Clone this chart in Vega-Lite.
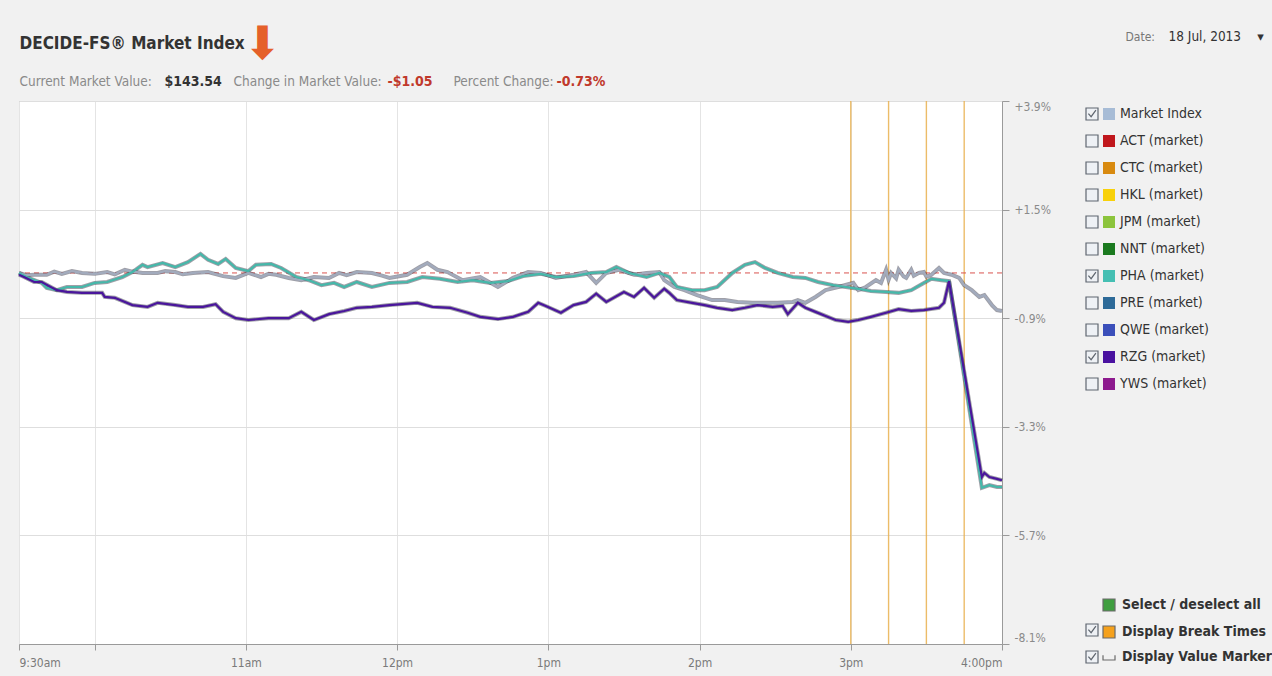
{
  "$schema": "https://vega.github.io/schema/vega-lite/v6.json",
  "width": 983,
  "height": 543,
  "autosize": {"type": "none"},
  "padding": {"left": 19, "top": 101, "right": 270, "bottom": 32},
  "background": "#f1f1f1",
  "config": {
    "font": "DejaVu Sans Condensed, DejaVu Sans",
    "view": {"stroke": "#b4b4b4", "fill": "#ffffff"},
    "axis": {"labelFont": "DejaVu Sans Condensed, DejaVu Sans", "titleFont": "DejaVu Sans Condensed, DejaVu Sans", "titleFontWeight": "normal"},
    "legend": {"labelFont": "DejaVu Sans Condensed, DejaVu Sans", "labelLimit": 400}
  },
  "datasets": {
    "reference": [{"level": 0.1}],
    "breaks": [
      {"time": "2013-07-18 15:00", "item": "Display Break Times"},
      {"time": "2013-07-18 15:15", "item": "Display Break Times"},
      {"time": "2013-07-18 15:30", "item": "Display Break Times"},
      {"time": "2013-07-18 15:45", "item": "Display Break Times"}
    ],
    "lines": [
      {"series": "Market Index", "time": "2013-07-18 09:30", "pct": 0.10},
      {"series": "Market Index", "time": "2013-07-18 09:33", "pct": 0.05},
      {"series": "Market Index", "time": "2013-07-18 09:36", "pct": 0.06},
      {"series": "Market Index", "time": "2013-07-18 09:41", "pct": 0.06},
      {"series": "Market Index", "time": "2013-07-18 09:44", "pct": 0.13},
      {"series": "Market Index", "time": "2013-07-18 09:47", "pct": 0.08},
      {"series": "Market Index", "time": "2013-07-18 09:51", "pct": 0.14},
      {"series": "Market Index", "time": "2013-07-18 09:55", "pct": 0.10},
      {"series": "Market Index", "time": "2013-07-18 10:00", "pct": 0.08},
      {"series": "Market Index", "time": "2013-07-18 10:05", "pct": 0.12},
      {"series": "Market Index", "time": "2013-07-18 10:08", "pct": 0.07},
      {"series": "Market Index", "time": "2013-07-18 10:12", "pct": 0.17},
      {"series": "Market Index", "time": "2013-07-18 10:15", "pct": 0.13},
      {"series": "Market Index", "time": "2013-07-18 10:19", "pct": 0.10},
      {"series": "Market Index", "time": "2013-07-18 10:25", "pct": 0.10},
      {"series": "Market Index", "time": "2013-07-18 10:28", "pct": 0.14},
      {"series": "Market Index", "time": "2013-07-18 10:32", "pct": 0.12},
      {"series": "Market Index", "time": "2013-07-18 10:35", "pct": 0.07},
      {"series": "Market Index", "time": "2013-07-18 10:39", "pct": 0.10},
      {"series": "Market Index", "time": "2013-07-18 10:45", "pct": 0.12},
      {"series": "Market Index", "time": "2013-07-18 10:51", "pct": 0.03},
      {"series": "Market Index", "time": "2013-07-18 10:56", "pct": -0.01},
      {"series": "Market Index", "time": "2013-07-18 11:01", "pct": 0.10},
      {"series": "Market Index", "time": "2013-07-18 11:06", "pct": 0.01},
      {"series": "Market Index", "time": "2013-07-18 11:09", "pct": 0.08},
      {"series": "Market Index", "time": "2013-07-18 11:12", "pct": 0.06},
      {"series": "Market Index", "time": "2013-07-18 11:17", "pct": -0.01},
      {"series": "Market Index", "time": "2013-07-18 11:22", "pct": -0.06},
      {"series": "Market Index", "time": "2013-07-18 11:27", "pct": 0.01},
      {"series": "Market Index", "time": "2013-07-18 11:33", "pct": -0.01},
      {"series": "Market Index", "time": "2013-07-18 11:37", "pct": 0.10},
      {"series": "Market Index", "time": "2013-07-18 11:40", "pct": 0.05},
      {"series": "Market Index", "time": "2013-07-18 11:44", "pct": 0.12},
      {"series": "Market Index", "time": "2013-07-18 11:50", "pct": 0.10},
      {"series": "Market Index", "time": "2013-07-18 11:54", "pct": 0.04},
      {"series": "Market Index", "time": "2013-07-18 11:57", "pct": -0.01},
      {"series": "Market Index", "time": "2013-07-18 12:04", "pct": 0.06},
      {"series": "Market Index", "time": "2013-07-18 12:09", "pct": 0.23},
      {"series": "Market Index", "time": "2013-07-18 12:12", "pct": 0.32},
      {"series": "Market Index", "time": "2013-07-18 12:16", "pct": 0.17},
      {"series": "Market Index", "time": "2013-07-18 12:20", "pct": 0.12},
      {"series": "Market Index", "time": "2013-07-18 12:26", "pct": -0.06},
      {"series": "Market Index", "time": "2013-07-18 12:33", "pct": 0.01},
      {"series": "Market Index", "time": "2013-07-18 12:40", "pct": -0.21},
      {"series": "Market Index", "time": "2013-07-18 12:46", "pct": -0.01},
      {"series": "Market Index", "time": "2013-07-18 12:52", "pct": 0.12},
      {"series": "Market Index", "time": "2013-07-18 12:57", "pct": 0.10},
      {"series": "Market Index", "time": "2013-07-18 13:03", "pct": -0.01},
      {"series": "Market Index", "time": "2013-07-18 13:10", "pct": 0.06},
      {"series": "Market Index", "time": "2013-07-18 13:15", "pct": 0.12},
      {"series": "Market Index", "time": "2013-07-18 13:19", "pct": -0.12},
      {"series": "Market Index", "time": "2013-07-18 13:23", "pct": 0.10},
      {"series": "Market Index", "time": "2013-07-18 13:28", "pct": 0.17},
      {"series": "Market Index", "time": "2013-07-18 13:34", "pct": 0.06},
      {"series": "Market Index", "time": "2013-07-18 13:39", "pct": 0.10},
      {"series": "Market Index", "time": "2013-07-18 13:44", "pct": 0.12},
      {"series": "Market Index", "time": "2013-07-18 13:46", "pct": -0.06},
      {"series": "Market Index", "time": "2013-07-18 13:50", "pct": -0.21},
      {"series": "Market Index", "time": "2013-07-18 13:54", "pct": -0.28},
      {"series": "Market Index", "time": "2013-07-18 13:59", "pct": -0.39},
      {"series": "Market Index", "time": "2013-07-18 14:05", "pct": -0.50},
      {"series": "Market Index", "time": "2013-07-18 14:10", "pct": -0.50},
      {"series": "Market Index", "time": "2013-07-18 14:15", "pct": -0.54},
      {"series": "Market Index", "time": "2013-07-18 14:21", "pct": -0.56},
      {"series": "Market Index", "time": "2013-07-18 14:26", "pct": -0.56},
      {"series": "Market Index", "time": "2013-07-18 14:31", "pct": -0.56},
      {"series": "Market Index", "time": "2013-07-18 14:37", "pct": -0.54},
      {"series": "Market Index", "time": "2013-07-18 14:39", "pct": -0.50},
      {"series": "Market Index", "time": "2013-07-18 14:42", "pct": -0.56},
      {"series": "Market Index", "time": "2013-07-18 14:46", "pct": -0.43},
      {"series": "Market Index", "time": "2013-07-18 14:50", "pct": -0.28},
      {"series": "Market Index", "time": "2013-07-18 14:55", "pct": -0.21},
      {"series": "Market Index", "time": "2013-07-18 15:01", "pct": -0.12},
      {"series": "Market Index", "time": "2013-07-18 15:03", "pct": -0.28},
      {"series": "Market Index", "time": "2013-07-18 15:06", "pct": -0.21},
      {"series": "Market Index", "time": "2013-07-18 15:10", "pct": -0.06},
      {"series": "Market Index", "time": "2013-07-18 15:12", "pct": -0.12},
      {"series": "Market Index", "time": "2013-07-18 15:14", "pct": 0.17},
      {"series": "Market Index", "time": "2013-07-18 15:15", "pct": -0.05},
      {"series": "Market Index", "time": "2013-07-18 15:16", "pct": 0.10},
      {"series": "Market Index", "time": "2013-07-18 15:18", "pct": -0.02},
      {"series": "Market Index", "time": "2013-07-18 15:19", "pct": 0.17},
      {"series": "Market Index", "time": "2013-07-18 15:21", "pct": 0.02},
      {"series": "Market Index", "time": "2013-07-18 15:22", "pct": -0.01},
      {"series": "Market Index", "time": "2013-07-18 15:24", "pct": 0.17},
      {"series": "Market Index", "time": "2013-07-18 15:25", "pct": 0.04},
      {"series": "Market Index", "time": "2013-07-18 15:27", "pct": 0.10},
      {"series": "Market Index", "time": "2013-07-18 15:29", "pct": 0.12},
      {"series": "Market Index", "time": "2013-07-18 15:30", "pct": 0.02},
      {"series": "Market Index", "time": "2013-07-18 15:32", "pct": 0.06},
      {"series": "Market Index", "time": "2013-07-18 15:35", "pct": 0.21},
      {"series": "Market Index", "time": "2013-07-18 15:37", "pct": 0.10},
      {"series": "Market Index", "time": "2013-07-18 15:40", "pct": 0.06},
      {"series": "Market Index", "time": "2013-07-18 15:43", "pct": -0.01},
      {"series": "Market Index", "time": "2013-07-18 15:45", "pct": -0.17},
      {"series": "Market Index", "time": "2013-07-18 15:48", "pct": -0.28},
      {"series": "Market Index", "time": "2013-07-18 15:51", "pct": -0.43},
      {"series": "Market Index", "time": "2013-07-18 15:53", "pct": -0.39},
      {"series": "Market Index", "time": "2013-07-18 15:56", "pct": -0.61},
      {"series": "Market Index", "time": "2013-07-18 15:58", "pct": -0.72},
      {"series": "Market Index", "time": "2013-07-18 16:00", "pct": -0.74},

      {"series": "PHA (market)", "time": "2013-07-18 09:30", "pct": 0.10},
      {"series": "PHA (market)", "time": "2013-07-18 09:33", "pct": 0.01},
      {"series": "PHA (market)", "time": "2013-07-18 09:39", "pct": -0.12},
      {"series": "PHA (market)", "time": "2013-07-18 09:41", "pct": -0.23},
      {"series": "PHA (market)", "time": "2013-07-18 09:45", "pct": -0.28},
      {"series": "PHA (market)", "time": "2013-07-18 09:49", "pct": -0.21},
      {"series": "PHA (market)", "time": "2013-07-18 09:55", "pct": -0.21},
      {"series": "PHA (market)", "time": "2013-07-18 10:00", "pct": -0.12},
      {"series": "PHA (market)", "time": "2013-07-18 10:05", "pct": -0.10},
      {"series": "PHA (market)", "time": "2013-07-18 10:11", "pct": 0.01},
      {"series": "PHA (market)", "time": "2013-07-18 10:15", "pct": 0.12},
      {"series": "PHA (market)", "time": "2013-07-18 10:19", "pct": 0.28},
      {"series": "PHA (market)", "time": "2013-07-18 10:21", "pct": 0.23},
      {"series": "PHA (market)", "time": "2013-07-18 10:27", "pct": 0.32},
      {"series": "PHA (market)", "time": "2013-07-18 10:32", "pct": 0.23},
      {"series": "PHA (market)", "time": "2013-07-18 10:37", "pct": 0.34},
      {"series": "PHA (market)", "time": "2013-07-18 10:42", "pct": 0.52},
      {"series": "PHA (market)", "time": "2013-07-18 10:45", "pct": 0.39},
      {"series": "PHA (market)", "time": "2013-07-18 10:49", "pct": 0.30},
      {"series": "PHA (market)", "time": "2013-07-18 10:52", "pct": 0.41},
      {"series": "PHA (market)", "time": "2013-07-18 10:56", "pct": 0.21},
      {"series": "PHA (market)", "time": "2013-07-18 11:01", "pct": 0.14},
      {"series": "PHA (market)", "time": "2013-07-18 11:04", "pct": 0.28},
      {"series": "PHA (market)", "time": "2013-07-18 11:10", "pct": 0.30},
      {"series": "PHA (market)", "time": "2013-07-18 11:14", "pct": 0.21},
      {"series": "PHA (market)", "time": "2013-07-18 11:20", "pct": 0.01},
      {"series": "PHA (market)", "time": "2013-07-18 11:25", "pct": -0.06},
      {"series": "PHA (market)", "time": "2013-07-18 11:30", "pct": -0.17},
      {"series": "PHA (market)", "time": "2013-07-18 11:35", "pct": -0.12},
      {"series": "PHA (market)", "time": "2013-07-18 11:39", "pct": -0.21},
      {"series": "PHA (market)", "time": "2013-07-18 11:44", "pct": -0.10},
      {"series": "PHA (market)", "time": "2013-07-18 11:50", "pct": -0.21},
      {"series": "PHA (market)", "time": "2013-07-18 11:57", "pct": -0.12},
      {"series": "PHA (market)", "time": "2013-07-18 12:04", "pct": -0.10},
      {"series": "PHA (market)", "time": "2013-07-18 12:10", "pct": 0.01},
      {"series": "PHA (market)", "time": "2013-07-18 12:17", "pct": -0.03},
      {"series": "PHA (market)", "time": "2013-07-18 12:24", "pct": -0.10},
      {"series": "PHA (market)", "time": "2013-07-18 12:30", "pct": -0.06},
      {"series": "PHA (market)", "time": "2013-07-18 12:37", "pct": -0.12},
      {"series": "PHA (market)", "time": "2013-07-18 12:44", "pct": -0.08},
      {"series": "PHA (market)", "time": "2013-07-18 12:50", "pct": 0.03},
      {"series": "PHA (market)", "time": "2013-07-18 12:57", "pct": 0.08},
      {"series": "PHA (market)", "time": "2013-07-18 13:03", "pct": 0.01},
      {"series": "PHA (market)", "time": "2013-07-18 13:10", "pct": 0.03},
      {"series": "PHA (market)", "time": "2013-07-18 13:17", "pct": 0.10},
      {"series": "PHA (market)", "time": "2013-07-18 13:23", "pct": 0.12},
      {"series": "PHA (market)", "time": "2013-07-18 13:27", "pct": 0.23},
      {"series": "PHA (market)", "time": "2013-07-18 13:32", "pct": 0.10},
      {"series": "PHA (market)", "time": "2013-07-18 13:39", "pct": 0.01},
      {"series": "PHA (market)", "time": "2013-07-18 13:44", "pct": 0.10},
      {"series": "PHA (market)", "time": "2013-07-18 13:48", "pct": 0.01},
      {"series": "PHA (market)", "time": "2013-07-18 13:51", "pct": -0.21},
      {"series": "PHA (market)", "time": "2013-07-18 13:57", "pct": -0.28},
      {"series": "PHA (market)", "time": "2013-07-18 14:02", "pct": -0.28},
      {"series": "PHA (market)", "time": "2013-07-18 14:07", "pct": -0.21},
      {"series": "PHA (market)", "time": "2013-07-18 14:13", "pct": 0.10},
      {"series": "PHA (market)", "time": "2013-07-18 14:18", "pct": 0.28},
      {"series": "PHA (market)", "time": "2013-07-18 14:22", "pct": 0.34},
      {"series": "PHA (market)", "time": "2013-07-18 14:26", "pct": 0.21},
      {"series": "PHA (market)", "time": "2013-07-18 14:31", "pct": 0.10},
      {"series": "PHA (market)", "time": "2013-07-18 14:37", "pct": 0.01},
      {"series": "PHA (market)", "time": "2013-07-18 14:42", "pct": -0.01},
      {"series": "PHA (market)", "time": "2013-07-18 14:47", "pct": -0.10},
      {"series": "PHA (market)", "time": "2013-07-18 14:53", "pct": -0.17},
      {"series": "PHA (market)", "time": "2013-07-18 14:58", "pct": -0.21},
      {"series": "PHA (market)", "time": "2013-07-18 15:03", "pct": -0.25},
      {"series": "PHA (market)", "time": "2013-07-18 15:08", "pct": -0.30},
      {"series": "PHA (market)", "time": "2013-07-18 15:14", "pct": -0.32},
      {"series": "PHA (market)", "time": "2013-07-18 15:19", "pct": -0.34},
      {"series": "PHA (market)", "time": "2013-07-18 15:24", "pct": -0.28},
      {"series": "PHA (market)", "time": "2013-07-18 15:29", "pct": -0.12},
      {"series": "PHA (market)", "time": "2013-07-18 15:32", "pct": -0.03},
      {"series": "PHA (market)", "time": "2013-07-18 15:36", "pct": -0.06},
      {"series": "PHA (market)", "time": "2013-07-18 15:39", "pct": -0.08},
      {"series": "PHA (market)", "time": "2013-07-18 15:52", "pct": -4.65},
      {"series": "PHA (market)", "time": "2013-07-18 15:55", "pct": -4.59},
      {"series": "PHA (market)", "time": "2013-07-18 15:58", "pct": -4.63},
      {"series": "PHA (market)", "time": "2013-07-18 16:00", "pct": -4.63},

      {"series": "RZG (market)", "time": "2013-07-18 09:30", "pct": 0.06},
      {"series": "RZG (market)", "time": "2013-07-18 09:32", "pct": 0.01},
      {"series": "RZG (market)", "time": "2013-07-18 09:36", "pct": -0.10},
      {"series": "RZG (market)", "time": "2013-07-18 09:39", "pct": -0.10},
      {"series": "RZG (market)", "time": "2013-07-18 09:45", "pct": -0.28},
      {"series": "RZG (market)", "time": "2013-07-18 09:49", "pct": -0.32},
      {"series": "RZG (market)", "time": "2013-07-18 09:55", "pct": -0.34},
      {"series": "RZG (market)", "time": "2013-07-18 10:03", "pct": -0.34},
      {"series": "RZG (market)", "time": "2013-07-18 10:04", "pct": -0.43},
      {"series": "RZG (market)", "time": "2013-07-18 10:08", "pct": -0.45},
      {"series": "RZG (market)", "time": "2013-07-18 10:15", "pct": -0.61},
      {"series": "RZG (market)", "time": "2013-07-18 10:21", "pct": -0.65},
      {"series": "RZG (market)", "time": "2013-07-18 10:25", "pct": -0.56},
      {"series": "RZG (market)", "time": "2013-07-18 10:32", "pct": -0.61},
      {"series": "RZG (market)", "time": "2013-07-18 10:37", "pct": -0.65},
      {"series": "RZG (market)", "time": "2013-07-18 10:43", "pct": -0.65},
      {"series": "RZG (market)", "time": "2013-07-18 10:48", "pct": -0.59},
      {"series": "RZG (market)", "time": "2013-07-18 10:51", "pct": -0.76},
      {"series": "RZG (market)", "time": "2013-07-18 10:56", "pct": -0.90},
      {"series": "RZG (market)", "time": "2013-07-18 11:01", "pct": -0.94},
      {"series": "RZG (market)", "time": "2013-07-18 11:09", "pct": -0.90},
      {"series": "RZG (market)", "time": "2013-07-18 11:17", "pct": -0.90},
      {"series": "RZG (market)", "time": "2013-07-18 11:22", "pct": -0.76},
      {"series": "RZG (market)", "time": "2013-07-18 11:27", "pct": -0.94},
      {"series": "RZG (market)", "time": "2013-07-18 11:33", "pct": -0.81},
      {"series": "RZG (market)", "time": "2013-07-18 11:39", "pct": -0.74},
      {"series": "RZG (market)", "time": "2013-07-18 11:44", "pct": -0.67},
      {"series": "RZG (market)", "time": "2013-07-18 11:50", "pct": -0.65},
      {"series": "RZG (market)", "time": "2013-07-18 11:57", "pct": -0.61},
      {"series": "RZG (market)", "time": "2013-07-18 12:08", "pct": -0.56},
      {"series": "RZG (market)", "time": "2013-07-18 12:14", "pct": -0.65},
      {"series": "RZG (market)", "time": "2013-07-18 12:21", "pct": -0.67},
      {"series": "RZG (market)", "time": "2013-07-18 12:28", "pct": -0.78},
      {"series": "RZG (market)", "time": "2013-07-18 12:33", "pct": -0.87},
      {"series": "RZG (market)", "time": "2013-07-18 12:40", "pct": -0.92},
      {"series": "RZG (market)", "time": "2013-07-18 12:46", "pct": -0.87},
      {"series": "RZG (market)", "time": "2013-07-18 12:52", "pct": -0.76},
      {"series": "RZG (market)", "time": "2013-07-18 12:56", "pct": -0.56},
      {"series": "RZG (market)", "time": "2013-07-18 12:59", "pct": -0.63},
      {"series": "RZG (market)", "time": "2013-07-18 13:05", "pct": -0.78},
      {"series": "RZG (market)", "time": "2013-07-18 13:10", "pct": -0.61},
      {"series": "RZG (market)", "time": "2013-07-18 13:15", "pct": -0.54},
      {"series": "RZG (market)", "time": "2013-07-18 13:19", "pct": -0.36},
      {"series": "RZG (market)", "time": "2013-07-18 13:23", "pct": -0.54},
      {"series": "RZG (market)", "time": "2013-07-18 13:30", "pct": -0.32},
      {"series": "RZG (market)", "time": "2013-07-18 13:34", "pct": -0.43},
      {"series": "RZG (market)", "time": "2013-07-18 13:38", "pct": -0.23},
      {"series": "RZG (market)", "time": "2013-07-18 13:42", "pct": -0.45},
      {"series": "RZG (market)", "time": "2013-07-18 13:46", "pct": -0.25},
      {"series": "RZG (market)", "time": "2013-07-18 13:48", "pct": -0.34},
      {"series": "RZG (market)", "time": "2013-07-18 13:51", "pct": -0.50},
      {"series": "RZG (market)", "time": "2013-07-18 13:57", "pct": -0.56},
      {"series": "RZG (market)", "time": "2013-07-18 14:02", "pct": -0.61},
      {"series": "RZG (market)", "time": "2013-07-18 14:07", "pct": -0.67},
      {"series": "RZG (market)", "time": "2013-07-18 14:13", "pct": -0.72},
      {"series": "RZG (market)", "time": "2013-07-18 14:18", "pct": -0.67},
      {"series": "RZG (market)", "time": "2013-07-18 14:23", "pct": -0.61},
      {"series": "RZG (market)", "time": "2013-07-18 14:29", "pct": -0.65},
      {"series": "RZG (market)", "time": "2013-07-18 14:33", "pct": -0.63},
      {"series": "RZG (market)", "time": "2013-07-18 14:35", "pct": -0.81},
      {"series": "RZG (market)", "time": "2013-07-18 14:39", "pct": -0.56},
      {"series": "RZG (market)", "time": "2013-07-18 14:42", "pct": -0.67},
      {"series": "RZG (market)", "time": "2013-07-18 14:46", "pct": -0.76},
      {"series": "RZG (market)", "time": "2013-07-18 14:50", "pct": -0.85},
      {"series": "RZG (market)", "time": "2013-07-18 14:54", "pct": -0.94},
      {"series": "RZG (market)", "time": "2013-07-18 14:59", "pct": -0.98},
      {"series": "RZG (market)", "time": "2013-07-18 15:03", "pct": -0.94},
      {"series": "RZG (market)", "time": "2013-07-18 15:08", "pct": -0.87},
      {"series": "RZG (market)", "time": "2013-07-18 15:14", "pct": -0.78},
      {"series": "RZG (market)", "time": "2013-07-18 15:19", "pct": -0.70},
      {"series": "RZG (market)", "time": "2013-07-18 15:24", "pct": -0.74},
      {"series": "RZG (market)", "time": "2013-07-18 15:29", "pct": -0.72},
      {"series": "RZG (market)", "time": "2013-07-18 15:35", "pct": -0.67},
      {"series": "RZG (market)", "time": "2013-07-18 15:37", "pct": -0.56},
      {"series": "RZG (market)", "time": "2013-07-18 15:39", "pct": -0.08},
      {"series": "RZG (market)", "time": "2013-07-18 15:52", "pct": -4.41},
      {"series": "RZG (market)", "time": "2013-07-18 15:53", "pct": -4.32},
      {"series": "RZG (market)", "time": "2013-07-18 15:55", "pct": -4.41},
      {"series": "RZG (market)", "time": "2013-07-18 15:58", "pct": -4.45},
      {"series": "RZG (market)", "time": "2013-07-18 16:00", "pct": -4.48}
    ]
  },
  "resolve": {
    "scale": {"shape": "independent", "fill": "independent"},
    "axis": {"x": "independent", "y": "independent"}
  },
  "layer": [
    {
      "data": {"name": "breaks"},
      "mark": {"type": "rule", "strokeWidth": 1.4, "color": "#e9b04f", "opacity": 0.85},
      "encoding": {
        "x": {
          "field": "time", "type": "temporal",
          "axis": {"orient": "top", "domain": false, "ticks": false, "labels": false, "grid": false,
            "title": "$143.54", "titleX": 145, "titleY": -16, "titleAlign": "left", "titleBaseline": "alphabetic", "titleAngle": 0,
            "titleColor": "#333333", "titleFontSize": 14, "titleFontWeight": "bold"}
        }
      }
    },
    {
      "data": {"name": "reference"},
      "mark": {"type": "rule", "color": "#d9534f", "strokeDash": [5, 4], "strokeWidth": 1},
      "encoding": {
        "y": {
          "field": "level", "type": "quantitative",
          "axis": {"orient": "left", "domain": false, "ticks": false, "labels": false, "grid": false,
            "title": "Current Market Value:", "titleX": 0, "titleY": -16, "titleAlign": "left", "titleBaseline": "alphabetic", "titleAngle": 0,
            "titleColor": "#8a8a8a", "titleFontSize": 13.5}
        }
      }
    },
    {
      "data": {"name": "lines"},
      "mark": {"type": "line", "color": "#2b2b3b", "opacity": 0.45, "strokeWidth": 4},
      "encoding": {
        "x": {
          "field": "time", "type": "temporal",
          "scale": {"domain": [{"year": 2013, "month": 7, "date": 18, "hours": 9, "minutes": 30}, {"year": 2013, "month": 7, "date": 18, "hours": 16, "minutes": 0}]},
          "axis": {
            "orient": "bottom",
            "values": [
              {"year": 2013, "month": 7, "date": 18, "hours": 9, "minutes": 30},
              {"year": 2013, "month": 7, "date": 18, "hours": 10},
              {"year": 2013, "month": 7, "date": 18, "hours": 11},
              {"year": 2013, "month": 7, "date": 18, "hours": 12},
              {"year": 2013, "month": 7, "date": 18, "hours": 13},
              {"year": 2013, "month": 7, "date": 18, "hours": 14},
              {"year": 2013, "month": 7, "date": 18, "hours": 15},
              {"year": 2013, "month": 7, "date": 18, "hours": 16}
            ],
            "labelExpr": "hours(datum.value) == 9 ? '9:30am' : hours(datum.value) == 10 ? '' : hours(datum.value) == 16 ? '4:00pm' : hours(datum.value) == 12 ? '12pm' : hours(datum.value) < 12 ? hours(datum.value) + 'am' : (hours(datum.value) - 12) + 'pm'",
            "labelFlush": true, "labelFontSize": 12, "labelColor": "#7a7a7a", "labelPadding": 7,
            "tickSize": 6, "tickColor": "#9a9a9a", "domainColor": "#9a9a9a",
            "grid": true, "gridColor": "#e4e4e4",
            "title": "Date:", "titleX": 1106, "titleY": -604, "titleAlign": "left", "titleBaseline": "alphabetic", "titleAngle": 0,
            "titleColor": "#777777", "titleFontSize": 12
          }
        },
        "y": {
          "field": "pct", "type": "quantitative",
          "scale": {"domain": [-8.1, 3.9], "nice": false, "zero": false},
          "axis": {
            "orient": "right",
            "values": [3.9, 1.5, -0.9, -3.3, -5.7, -8.1],
            "labelExpr": "replace(format(datum.value, '+.1f'), '\u2212', '-') + '%'",
            "labelFlush": true, "labelFontSize": 12, "labelColor": "#8a8a8a", "labelPadding": 5,
            "tickSize": 7, "tickColor": "#9a9a9a", "domainColor": "#9a9a9a",
            "grid": true, "gridColor": "#dedede",
            "title": "-0.73%", "titleX": -446, "titleY": -16, "titleAlign": "left", "titleBaseline": "alphabetic", "titleAngle": 0,
            "titleColor": "#c0392b", "titleFontSize": 14, "titleFontWeight": "bold"
          }
        },
        "detail": {"field": "series", "type": "nominal"}
      }
    },
    {
      "data": {"name": "lines"},
      "mark": {"type": "line", "strokeWidth": 2.2},
      "encoding": {
        "x": {
          "field": "time", "type": "temporal",
          "axis": {"orient": "top", "domain": false, "ticks": false, "labels": false, "grid": false,
            "title": "DECIDE-FS\u00AE Market Index", "titleX": 0, "titleY": -53, "titleAlign": "left", "titleBaseline": "alphabetic", "titleAngle": 0,
            "titleColor": "#333333", "titleFontSize": 17, "titleFontWeight": "bold"}
        },
        "y": {
          "field": "pct", "type": "quantitative",
          "axis": {"orient": "left", "domain": false, "ticks": false, "labels": false, "grid": false,
            "title": "\u2B07", "titleX": 243, "titleY": -43, "titleAlign": "center", "titleBaseline": "alphabetic", "titleAngle": 0,
            "titleColor": "#e5602a", "titleFontSize": 46, "titleFont": "DejaVu Sans"}
        },
        "color": {
          "field": "series", "type": "nominal",
          "scale": {
            "domain": ["Market Index", "PHA (market)", "RZG (market)"],
            "range": ["#a2abbd", "#45b8aa", "#4a169c"]
          },
          "legend": null
        }
      }
    },
    {
      "data": {"name": "lines"},
      "mark": {"type": "point", "shape": "square", "filled": true, "opacity": 0},
      "encoding": {
        "x": {
          "field": "time", "type": "temporal",
          "axis": {"orient": "top", "domain": false, "ticks": false, "labels": false, "grid": false,
            "title": "18 Jul, 2013", "titleX": 1149, "titleY": -61, "titleAlign": "left", "titleBaseline": "alphabetic", "titleAngle": 0,
            "titleColor": "#333333", "titleFontSize": 13.5}
        },
        "y": {
          "field": "pct", "type": "quantitative",
          "axis": {"orient": "left", "domain": false, "ticks": false, "labels": false, "grid": false,
            "title": "\u25BE", "titleX": 1241, "titleY": -61, "titleAlign": "center", "titleBaseline": "alphabetic", "titleAngle": 0,
            "titleColor": "#333333", "titleFontSize": 13, "titleFont": "DejaVu Sans"}
        },
        "fill": {
          "field": "series", "type": "nominal",
          "scale": {
            "domain": ["Market Index", "ACT (market)", "CTC (market)", "HKL (market)", "JPM (market)", "NNT (market)", "PHA (market)", "PRE (market)", "QWE (market)", "RZG (market)", "YWS (market)"],
            "range": ["#a7bcd6", "#c0171c", "#d88a10", "#f8d10a", "#8cc43c", "#1b7a1f", "#45bfb3", "#2d6a98", "#3b4fba", "#4a12a0", "#8d1a8e"]
          },
          "legend": {
            "orient": "none", "legendX": 1083, "legendY": 6, "title": null, "padding": 0,
            "symbolType": "square", "symbolSize": 144, "symbolStrokeWidth": 1.2, "symbolStrokeColor": "transparent", "symbolOpacity": 1,
            "labelExpr": "''", "labelFontSize": 14, "labelOffset": 6, "rowPadding": 9
          }
        }
      }
    },
    {
      "data": {"name": "lines"},
      "mark": {"type": "point", "filled": true, "color": "#eef1f5", "stroke": "#5f6670", "strokeWidth": 1.2, "opacity": 0},
      "encoding": {
        "x": {
          "field": "time", "type": "temporal",
          "axis": {"orient": "top", "domain": false, "ticks": false, "labels": false, "grid": false,
            "title": "Change in Market Value:", "titleX": 214, "titleY": -16, "titleAlign": "left", "titleBaseline": "alphabetic", "titleAngle": 0,
            "titleColor": "#8a8a8a", "titleFontSize": 13.5}
        },
        "y": {
          "field": "pct", "type": "quantitative",
          "axis": {"orient": "left", "domain": false, "ticks": false, "labels": false, "grid": false,
            "title": "-$1.05", "titleX": 368, "titleY": -16, "titleAlign": "left", "titleBaseline": "alphabetic", "titleAngle": 0,
            "titleColor": "#c0392b", "titleFontSize": 14, "titleFontWeight": "bold"}
        },
        "shape": {
          "field": "series", "type": "nominal",
          "scale": {
            "domain": ["Market Index", "ACT (market)", "CTC (market)", "HKL (market)", "JPM (market)", "NNT (market)", "PHA (market)", "PRE (market)", "QWE (market)", "RZG (market)", "YWS (market)"],
            "range": [
              "M-1,-1H1V1H-1Z M-0.6,-0.05L-0.15,0.45L0.65,-0.65",
              "M-1,-1H1V1H-1Z", "M-1,-1H1V1H-1Z", "M-1,-1H1V1H-1Z", "M-1,-1H1V1H-1Z", "M-1,-1H1V1H-1Z",
              "M-1,-1H1V1H-1Z M-0.6,-0.05L-0.15,0.45L0.65,-0.65",
              "M-1,-1H1V1H-1Z", "M-1,-1H1V1H-1Z",
              "M-1,-1H1V1H-1Z M-0.6,-0.05L-0.15,0.45L0.65,-0.65",
              "M-1,-1H1V1H-1Z"
            ]
          },
          "legend": {
            "orient": "none", "legendX": 1066, "legendY": 6, "title": null, "padding": 0,
            "symbolSize": 144, "symbolStrokeWidth": 1.2, "symbolOpacity": 1,
            "labelFontSize": 14, "labelColor": "#333333", "labelOffset": 21, "rowPadding": 9
          }
        }
      }
    },
    {
      "data": {"name": "breaks"},
      "mark": {"type": "point", "filled": true, "color": "#eef1f5", "stroke": "#5f6670", "strokeWidth": 1.2, "opacity": 0},
      "encoding": {
        "x": {
          "field": "time", "type": "temporal",
          "axis": {"orient": "top", "domain": false, "ticks": false, "labels": false, "grid": false,
            "title": "Percent Change:", "titleX": 434, "titleY": -16, "titleAlign": "left", "titleBaseline": "alphabetic", "titleAngle": 0,
            "titleColor": "#8a8a8a", "titleFontSize": 13.5}
        },
        "shape": {
          "field": "item", "type": "nominal",
          "scale": {
            "domain": ["Select / deselect all", "Display Break Times", "Display Value Marker"],
            "range": ["M0,0", "M-1,-1H1V1H-1Z M-0.6,-0.05L-0.15,0.45L0.65,-0.65", "M-1,-1H1V1H-1Z M-0.6,-0.05L-0.15,0.45L0.65,-0.65"]
          },
          "legend": {
            "orient": "none", "legendX": 1066, "legendY": 497, "title": null, "padding": 0,
            "symbolSize": 144, "symbolStrokeWidth": 1.2, "symbolOpacity": 1,
            "labelExpr": "''", "labelFontSize": 14, "labelFontWeight": "bold", "labelOffset": 6, "rowPadding": 9
          }
        }
      }
    },
    {
      "data": {"name": "breaks"},
      "mark": {"type": "point", "filled": true, "stroke": "#6a6a6a", "strokeWidth": 1.2, "opacity": 0},
      "encoding": {
        "x": {"field": "time", "type": "temporal", "axis": null},
        "fill": {
          "field": "item", "type": "nominal",
          "scale": {"domain": ["Select / deselect all", "Display Break Times", "Display Value Marker"], "range": ["#3f9e3f", "#f5a11c", "transparent"]},
          "legend": {
            "orient": "none", "legendX": 1083, "legendY": 497, "title": null, "padding": 0,
            "symbolSize": 144, "symbolStrokeWidth": 1.2, "symbolOpacity": 1,
            "labelFontSize": 14, "labelFontWeight": "bold", "labelColor": "#333333", "labelOffset": 6, "rowPadding": 9
          }
        },
        "shape": {
          "field": "item", "type": "nominal",
          "scale": {"domain": ["Select / deselect all", "Display Break Times", "Display Value Marker"], "range": ["square", "square", "M-1,-0.3L-1,0.5L1,0.5L1,-0.3"]},
          "legend": {
            "orient": "none", "legendX": 1083, "legendY": 497, "title": null, "padding": 0,
            "symbolSize": 144, "symbolStrokeWidth": 1.2, "symbolOpacity": 1,
            "labelFontSize": 14, "labelFontWeight": "bold", "labelColor": "#333333", "labelOffset": 6, "rowPadding": 9
          }
        }
      }
    }
  ]
}
